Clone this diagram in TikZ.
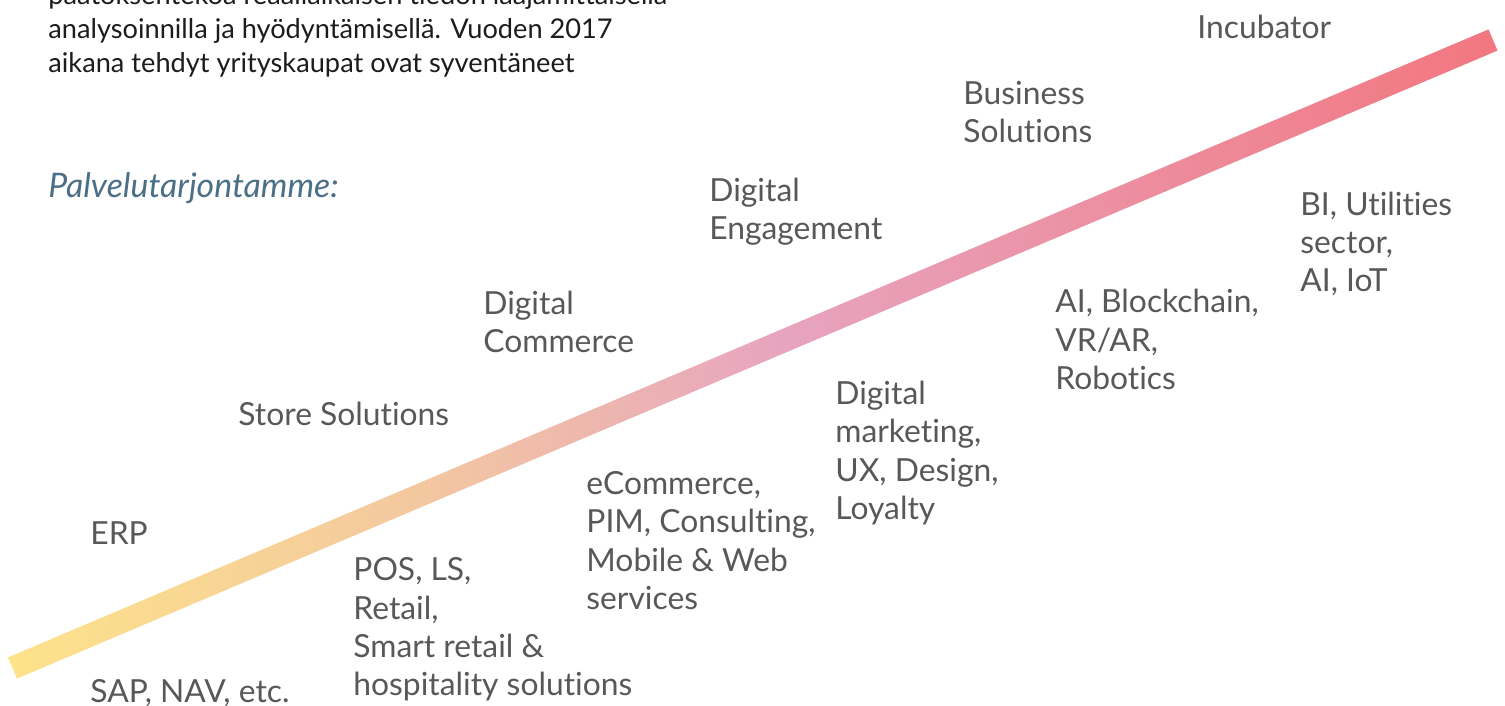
\documentclass[tikz,border=0pt]{standalone}
\usepackage{fontspec}
\setmainfont{Lato}[Ligatures=NoCommon]

\definecolor{bandA}{RGB}{253,227,138}
\definecolor{bandB}{RGB}{243,199,160}
\definecolor{bandC}{RGB}{231,164,191}
\definecolor{bandD}{RGB}{242,119,127}
\definecolor{labelgray}{RGB}{88,88,88}
\definecolor{paratext}{RGB}{28,28,28}
\definecolor{offerblue}{RGB}{75,111,134}

\pgfdeclarehorizontalshading{bandshade}{100bp}{color(0bp)=(bandA); color(25bp)=(bandA);
  color(39bp)=(bandB); color(51bp)=(bandC); color(75bp)=(bandD); color(100bp)=(bandD)}

\tikzset{
  lbl/.style={anchor=west, inner sep=0pt, align=left, text=labelgray,
    font=\fontsize{15.9}{19.15}\selectfont},
  para/.style={anchor=west, inner sep=0pt, align=left, text=paratext,
    font=\fontsize{13.6}{17}\selectfont}
}

\begin{document}
\begin{tikzpicture}[x=0.5pt, y=-0.5pt]
	\useasboundingbox (0,0) rectangle (1505,706);

	% rising band
	\shade[shading=bandshade] (8,657.4) -- (1488.5,29.4) -- (1497.5,50.6) -- (17,678.6) -- cycle;

	\node[para] (intro) at (48,31) {päätöksentekoa reaaliaikaisen tiedon laajamittaisella\\analysoinnilla ja hyödyntämisellä. Vuoden 2017\\aikana tehdyt yrityskaupat ovat syventäneet};
	\node[para, text=offerblue, font=\fontsize{16.9}{17}\selectfont\itshape] (offer) at (48,188) {Palvelutarjontamme:};

	% above the band
	\node[lbl] (erp) at (90,533) {ERP};
	\node[lbl] (store) at (238,414) {Store Solutions};
	\node[lbl] (commerce) at (483,322) {Digital\\Commerce};
	\node[lbl] (engage) at (709,212) {Digital\\Engagement};
	\node[lbl] (business) at (963,112) {Business\\Solutions};
	\node[lbl] (incub) at (1197,27) {Incubator};

	% below the band
	\node[lbl] (sap) at (90,693) {SAP, NAV, etc.};
	\node[lbl] (pos) at (353,629.5) {POS, LS,\\Retail,\\Smart retail \&\\hospitality solutions};
	\node[lbl] (ecom) at (586,540.5) {eCommerce,\\PIM, Consulting,\\Mobile \& Web\\services};
	\node[lbl] (dmark) at (835,453) {Digital\\marketing,\\UX, Design,\\Loyalty};
	\node[lbl] (ai) at (1055,339.5) {AI, Blockchain,\\VR/AR,\\Robotics};
	\node[lbl] (bi) at (1300,244) {BI, Utilities\\sector,\\AI, IoT};
\end{tikzpicture}
\end{document}
